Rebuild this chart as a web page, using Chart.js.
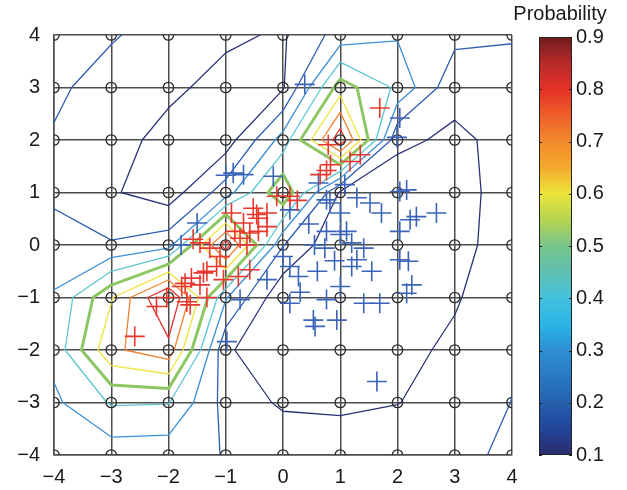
<!DOCTYPE html>
<html>
<head>
<meta charset="utf-8">
<script src="https://cdn.jsdelivr.net/npm/chart.js@4.4.0/dist/chart.umd.min.js"></script>
<style>
  html, body { margin: 0; padding: 0; background: #fff; }
  #wrap { position: relative; width: 627px; height: 490px; }
  #main, #cbar { position: absolute; top: 0; }
  #main { left: 0; }
  #cbar { left: 500px; }
</style>
</head>
<body>
<div id="wrap">
  <canvas id="main" width="627" height="490"></canvas>
  <canvas id="cbar" width="127" height="490"></canvas>
</div>
<script>
// --- Data ---
const gridX = [-4, -3, -2, -1, 0, 1, 2, 3, 4];
const gridY = [4, 3, 2, 1, 0, -1, -2, -3, -4];
// probability at each grid node, one row per gridY value (top row first)
const probRows = [
  [0.28, 0.22, 0.11, 0.115, 0.09, 0.24, 0.29, 0.23, 0.21],
  [0.24, 0.11, 0.118, 0.071, 0.09, 0.55, 0.38, 0.123, 0.15],
  [0.18, 0.133, 0.072, 0.05, 0.34, 0.87, 0.115, 0.086, 0.122],
  [0.173, 0.111, 0.047, 0.25, 0.588, 0.085, 0.06, 0.07, 0.135],
  [0.26, 0.209, 0.26, 0.85, 0.205, 0.01, 0.03, 0.07, 0.145],
  [0.307, 0.59, 0.92, 0.31, 0.015, 0.02, 0.03, 0.09, 0.17],
  [0.333, 0.68, 0.764, 0.115, 0.02, 0.03, 0.07, 0.12, 0.185],
  [0.28, 0.41, 0.405, 0.165, 0.084, 0.07, 0.098, 0.13, 0.202],
  [0.25, 0.243, 0.236, 0.196, 0.18, 0.19, 0.15, 0.16, 0.23]
];
const levels = [0.1, 0.2, 0.3, 0.4, 0.5, 0.6, 0.7, 0.8];
const levelColors = ['#2b3178', '#2e5db2', '#3b8fd6', '#5cc7d2', '#8cc764', '#f0e23c', '#f2802f', '#e5312b'];

const redX = [1.69, 0.79, 1.35, 1.17, 0.83, 0.65, 0.76, 0.12, -0.11, 0.25, -0.28, -0.43, -0.52, -0.69, -0.43, -0.28, -0.75, -0.63, -0.84, -0.9, -0.58, -0.46,
  -1.28, -1.39, -1.16, -1.45, -1.1, -1.33, -1.6, -1.71, -1.45, -1.04, -0.78, -0.58, -1.57, -1.62, -2.21, -2.59, -1.33, -2.03, -1.77, -1.68];
const redY = [2.61, 1.91, 1.72, 1.59, 1.53, 1.34, 1.42, 0.93, 0.93, 0.85, 0.61, 0.51, 0.7, 0.42, 0.26, 0.35, 0.13, 0.0, 0.26, 0.61, 0.23, 0.58,
  -0.06, -0.53, -0.41, 0.04, -0.22, -0.5, -0.63, -0.73, -0.76, -0.66, -0.6, -0.47, 0.11, -1.14, -1.17, -1.74, -1.0, -1.0, -0.79, -1.08];

const blueX = [0.38, 2.04, 1.99, -1.0, -0.69, -0.87, -0.17, -1.5, -1.78, 0.62, 1.08, 0.76, 1.29, 1.52, 1.72, 2.04, 2.16, 2.68, 2.22, 2.04, 0.76, 1.11, 1.2, 1.41,
  0.73, 1.29, 1.2, 2.04, 2.19, 0.12, 0.0, 0.27, 1.0, 0.12, 0.76, 1.41, 1.69, 0.53, 0.94, 0.56, -0.75, -0.28, 2.25, 2.16, -0.98, 1.64, 0.82, 0.12, 1.0, 2.33,
  0.55, 0.9, 0.45, 1.0, 0.3, 1.55, 0.6];
const blueY = [3.06, 2.42, 2.05, 1.33, 1.34, 1.37, 1.31, 0.42, 0.0, 1.18, 1.15, 0.86, 0.9, 0.8, 0.61, 1.02, 1.05, 0.61, 0.48, 0.26, 0.26, 0.26, 0.04, -0.06,
  -0.06, -0.28, -0.41, -0.28, -0.31, -0.41, -0.22, -0.6, -0.79, -1.11, -1.04, -1.11, -1.11, -1.43, -1.43, -1.55, -1.04, -0.66, -0.76, -0.92, -1.84, -2.6, 0.8, 0.67, 0.61, 0.54,
  0.0, -0.3, 0.4, 0.2, -0.9, -0.5, -0.5];

// colorbar
const cbMin = 0.1, cbMax = 0.9;
const cbStopValues = [0.1, 0.15, 0.2, 0.25, 0.3, 0.35, 0.4, 0.45, 0.5, 0.55, 0.6, 0.65, 0.7, 0.75, 0.8, 0.85, 0.9];
const cbStopColors = ['#2a2c6b', '#22449a', '#2560ad', '#2a78c2', '#2d8fd2', '#2bb5e8', '#45c0dc', '#5fc1b0', '#78c38a', '#b5d552',
  '#ece43a', '#f4aa2e', '#f28a2b', '#ee5e29', '#e53228', '#b82a2a', '#6e1c1c'];

const FONT = '"Liberation Sans", Arial, Helvetica, sans-serif';
const minus = v => (v < 0 ? '\u2212' + Math.abs(v) : String(v));

// --- Contours (marching squares on the probability grid) ---
function buildContours(level) {
  const pts = {};
  const segs = [];
  const node = (r, c) => ({ x: gridX[c], y: gridY[r], v: probRows[r][c] });
  const cross = (key, a, b) => {
    if (!pts[key]) {
      const t = (level - a.v) / (b.v - a.v);
      pts[key] = { x: a.x + t * (b.x - a.x), y: a.y + t * (b.y - a.y) };
    }
    return key;
  };
  for (let r = 0; r < gridY.length - 1; r++) {
    for (let c = 0; c < gridX.length - 1; c++) {
      const tl = node(r, c), tr = node(r, c + 1), bl = node(r + 1, c), br = node(r + 1, c + 1);
      const hi = n => n.v >= level;
      const e = {};
      if (hi(tl) !== hi(tr)) e.top = cross('h' + r + '_' + c, tl, tr);
      if (hi(bl) !== hi(br)) e.bottom = cross('h' + (r + 1) + '_' + c, bl, br);
      if (hi(tl) !== hi(bl)) e.left = cross('v' + r + '_' + c, tl, bl);
      if (hi(tr) !== hi(br)) e.right = cross('v' + r + '_' + (c + 1), tr, br);
      const ks = Object.keys(e);
      if (ks.length === 2) segs.push([e[ks[0]], e[ks[1]]]);
      else if (ks.length === 4) {
        const centreHi = (tl.v + tr.v + bl.v + br.v) / 4 >= level;
        if (hi(tl) === centreHi) segs.push([e.top, e.right], [e.bottom, e.left]);
        else segs.push([e.top, e.left], [e.bottom, e.right]);
      }
    }
  }
  // chain segments into polylines
  const byKey = {};
  segs.forEach((s, i) => s.forEach(k => (byKey[k] = byKey[k] || []).push(i)));
  const used = segs.map(() => false);
  const lines = [];
  const walk = (i, k) => {
    const keys = [k];
    while (i !== undefined) {
      used[i] = true;
      const next = segs[i][0] === k ? segs[i][1] : segs[i][0];
      keys.push(next);
      k = next;
      i = byKey[k].find(j => !used[j]);
    }
    lines.push(keys.map(kk => pts[kk]));
  };
  segs.forEach((s, i) => {
    if (used[i]) return;
    if (byKey[s[0]].length === 1) walk(i, s[0]);
    else if (byKey[s[1]].length === 1) walk(i, s[1]);
  });
  segs.forEach((s, i) => { if (!used[i]) walk(i, s[0]); });
  return lines;
}

const datasets = [];
datasets.push({
  label: 'red',
  data: redX.map((x, i) => ({ x, y: redY[i] })),
  pointStyle: 'cross', pointRadius: 10, pointBorderWidth: 1.6,
  borderColor: '#e8372c', backgroundColor: '#e8372c', order: 0
});
datasets.push({
  label: 'blue',
  data: blueX.map((x, i) => ({ x, y: blueY[i] })),
  pointStyle: 'cross', pointRadius: 10, pointBorderWidth: 1.6,
  borderColor: '#3b64b8', backgroundColor: '#3b64b8', order: 1
});
const nodes = [];
gridY.forEach(y => gridX.forEach(x => nodes.push({ x, y })));
datasets.push({
  label: 'grid',
  data: nodes,
  pointStyle: 'circle', pointRadius: 5.2, pointBorderWidth: 1.3,
  borderColor: '#2a2a2a', backgroundColor: 'rgba(0,0,0,0)', order: 2
});
levels.forEach((lv, li) => {
  buildContours(lv).forEach(line => {
    datasets.push({
      label: 'c' + lv,
      data: line,
      showLine: true, pointRadius: 0, tension: 0,
      borderColor: levelColors[li], borderWidth: lv === 0.5 ? 3 : 1.3,
      borderJoinStyle: 'round', borderCapStyle: 'round',
      order: 3 + li
    });
  });
});

// --- Main chart ---
new Chart(document.getElementById('main'), {
  type: 'scatter',
  data: { datasets },
  options: {
    responsive: false, animation: false, devicePixelRatio: 1, events: [],
    layout: { padding: { top: 35, right: 115, left: 0, bottom: 0 } },
    plugins: { legend: { display: false }, tooltip: { enabled: false } },
    scales: {
      x: {
        min: -4, max: 4,
        ticks: { stepSize: 1, autoSkip: false, maxRotation: 0, padding: 10, color: '#1a1a1a',
          font: { family: FONT, size: 20 }, callback: minus },
        grid: { color: '#4d4d4d', lineWidth: 1.5, drawTicks: false },
        border: { color: '#4d4d4d', width: 1.5 },
        afterFit(s) { s.height = 35; }
      },
      y: {
        min: -4, max: 4,
        ticks: { stepSize: 1, autoSkip: false, padding: 14, color: '#1a1a1a',
          font: { family: FONT, size: 20 }, callback: minus },
        grid: { color: '#4d4d4d', lineWidth: 1.5, drawTicks: false },
        border: { color: '#4d4d4d', width: 1.5 },
        afterFit(s) { s.width = 54; }
      }
    }
  }
});

// --- Colorbar ---
const cbFrame = {
  id: 'cbFrame',
  afterDraw(chart) {
    const { ctx, chartArea: a } = chart;
    const ys = chart.scales.y;
    ctx.save();
    ctx.strokeStyle = '#222';
    ctx.lineWidth = 1;
    ctx.strokeRect(a.left + 0.5, a.top + 0.5, a.right - a.left - 1, a.bottom - a.top - 1);
    for (let v = 1; v <= 9; v++) {
      const py = Math.round(ys.getPixelForValue(v / 10)) + 0.5;
      ctx.beginPath();
      ctx.moveTo(a.left, py); ctx.lineTo(a.left + 3, py);
      ctx.moveTo(a.right - 3, py); ctx.lineTo(a.right, py);
      ctx.stroke();
    }
    ctx.fillStyle = '#1a1a1a';
    ctx.font = '20px ' + FONT;
    ctx.textAlign = 'center';
    ctx.textBaseline = 'alphabetic';
    ctx.fillText('Probability', 60, 20);
    ctx.restore();
  }
};

new Chart(document.getElementById('cbar'), {
  type: 'bar',
  data: {
    labels: [''],
    datasets: [{
      data: [[cbMin, cbMax]],
      barPercentage: 1, categoryPercentage: 1, borderWidth: 0,
      backgroundColor(c) {
        const a = c.chart.chartArea;
        if (!a) return '#888';
        const ys = c.chart.scales.y;
        const g = c.chart.ctx.createLinearGradient(0, a.bottom, 0, a.top);
        cbStopValues.forEach((v, i) => {
          const t = (ys.getPixelForValue(v) - a.bottom) / (a.top - a.bottom);
          g.addColorStop(Math.min(1, Math.max(0, t)), cbStopColors[i]);
        });
        return g;
      }
    }]
  },
  options: {
    responsive: false, animation: false, devicePixelRatio: 1, events: [],
    layout: { padding: { left: 39, top: 37, bottom: 35, right: 0 } },
    plugins: { legend: { display: false }, tooltip: { enabled: false } },
    scales: {
      x: { display: false },
      y: {
        position: 'right', min: cbMin, max: cbMax,
        ticks: { stepSize: 0.1, padding: 4, color: '#1a1a1a', font: { family: FONT, size: 20 },
          callback: v => v.toFixed(1) },
        grid: { display: false, drawTicks: false },
        border: { display: false },
        afterFit(s) { s.width = 55; }
      }
    }
  },
  plugins: [cbFrame]
});
</script>
</body>
</html>
